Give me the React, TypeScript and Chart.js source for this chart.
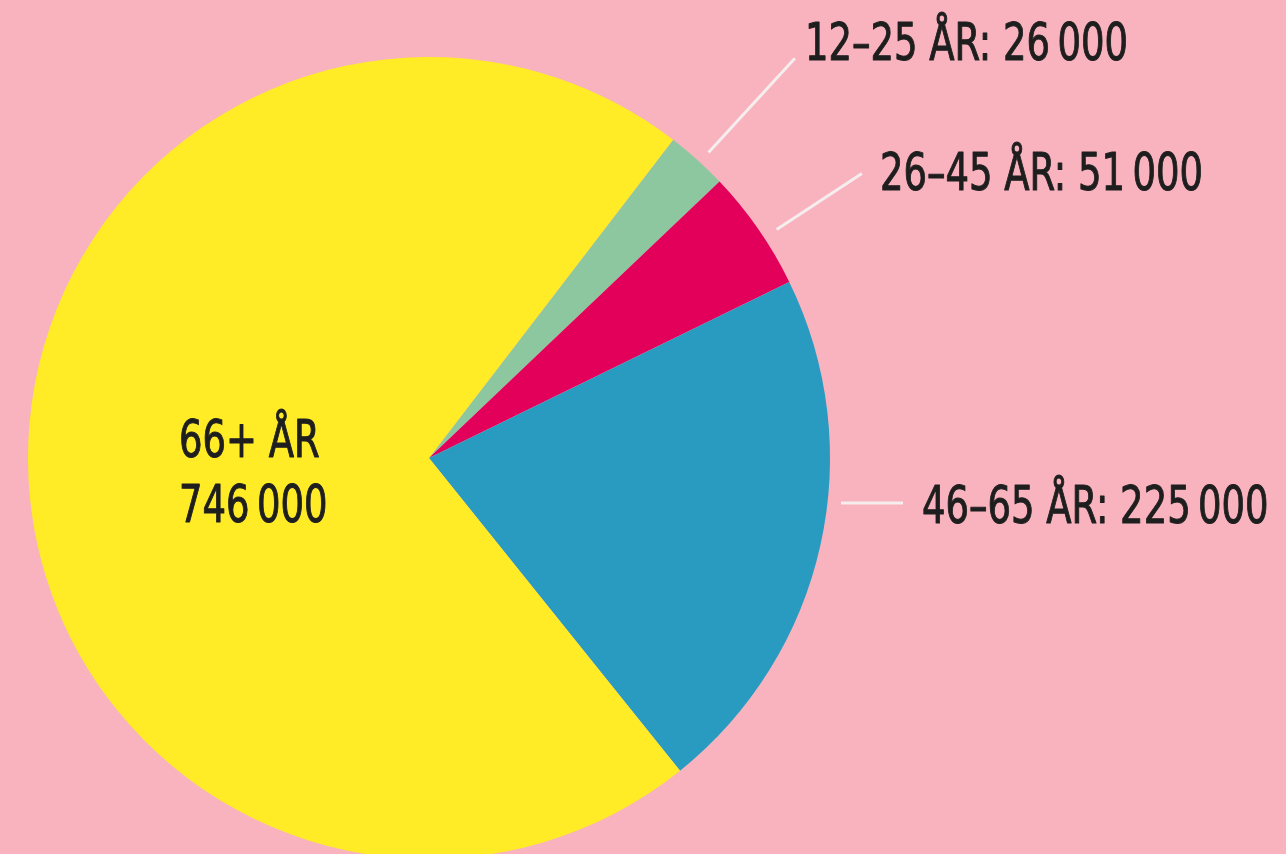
import React, { useEffect, useRef } from "react";
import { Chart, registerables } from "chart.js";

Chart.register(...registerables);

const categories = ["12–25 ÅR", "26–45 ÅR", "46–65 ÅR", "66+ ÅR"];
const values = [26000, 51000, 225000, 746000];
const colors = ["#8DC79F", "#E2005A", "#2A9BC0", "#FFEC27"];

const BG = "#F8B3BE";
const TEXT = "#1E1E1E";
const FONT = '"DejaVu Sans Condensed", "Liberation Sans Narrow", sans-serif';
const SX = 0.79;

// label layout (style, not data)
const layout = [
  { kind: "radial", rot: 0.5, from: 13, to: 141, dx: 10, dy: -12 },
  { kind: "radial", rot: 1.5, from: 15, to: 117, dx: 18, dy: 3 },
  { kind: "side", dy: 45, from: 11, to: 73, tx: 92, ty: 51 },
  { kind: "inside", tx: -250, ty1: -15, ty2: 50 },
];

function fmt(v: number): string {
  const s = String(v);
  const parts: string[] = [];
  for (let i = s.length; i > 0; i -= 3) parts.unshift(s.slice(Math.max(0, i - 3), i));
  return parts.join("\u2009");
}

function drawText(ctx: CanvasRenderingContext2D, text: string, x: number, y: number) {
  ctx.save();
  ctx.translate(x, y);
  ctx.scale(SX, 1);
  ctx.strokeStyle = TEXT;
  ctx.lineWidth = 1;
  ctx.lineJoin = "round";
  ctx.strokeText(text, 0, 0);
  ctx.fillText(text, 0, 0);
  ctx.restore();
}

const labelPlugin = {
  id: "sliceLabels",
  afterDraw(chart: any) {
    const ctx = chart.ctx;
    const meta = chart.getDatasetMeta(0);
    ctx.save();
    ctx.font = `52px ${FONT}`;
    ctx.fillStyle = TEXT;
    ctx.textBaseline = "middle";
    ctx.textAlign = "left";
    meta.data.forEach((arc: any, i: number) => {
      const p = arc.getProps(["x", "y", "startAngle", "endAngle", "outerRadius"], true);
      const L: any = layout[i];
      const mid = (p.startAngle + p.endAngle) / 2 + ((L.rot || 0) * Math.PI) / 180;
      const text = `${categories[i]}: ${fmt(values[i])}`;
      ctx.strokeStyle = "#F6EDEE";
      ctx.lineWidth = 3;
      ctx.lineCap = "butt";
      if (L.kind === "radial") {
        const x1 = p.x + Math.cos(mid) * (p.outerRadius + L.from);
        const y1 = p.y + Math.sin(mid) * (p.outerRadius + L.from);
        const x2 = p.x + Math.cos(mid) * (p.outerRadius + L.to);
        const y2 = p.y + Math.sin(mid) * (p.outerRadius + L.to);
        ctx.beginPath();
        ctx.moveTo(x1, y1);
        ctx.lineTo(x2, y2);
        ctx.stroke();
        drawText(ctx, text, x2 + L.dx, y2 + L.dy);
      } else if (L.kind === "side") {
        const y = p.y + L.dy;
        ctx.beginPath();
        ctx.moveTo(p.x + p.outerRadius + L.from, y);
        ctx.lineTo(p.x + p.outerRadius + L.to, y);
        ctx.stroke();
        drawText(ctx, text, p.x + p.outerRadius + L.tx, p.y + L.ty);
      } else {
        drawText(ctx, categories[i], p.x + L.tx, p.y + L.ty1);
        drawText(ctx, fmt(values[i]), p.x + L.tx, p.y + L.ty2);
      }
    });
    ctx.restore();
  },
};

export default function App() {
  const ref = useRef<HTMLCanvasElement | null>(null);
  useEffect(() => {
    document.body.style.margin = "0";
    if (!ref.current) return;
    const chart = new Chart(ref.current, {
      type: "pie",
      data: {
        labels: categories,
        datasets: [
          {
            data: values,
            backgroundColor: colors,
            borderWidth: 0,
          },
        ],
      },
      options: {
        responsive: false,
        animation: false,
        rotation: 37.5,
        layout: { padding: { left: 28, right: 456, top: 57, bottom: 57 } },
        plugins: { legend: { display: false }, tooltip: { enabled: false } },
      },
      plugins: [labelPlugin],
    });
    return () => chart.destroy();
  }, []);
  return (
    <div style={{ width: 1286, height: 854, overflow: "hidden", background: BG, position: "relative" }}>
      <canvas ref={ref} width={1286} height={916} style={{ display: "block" }} />
    </div>
  );
}
